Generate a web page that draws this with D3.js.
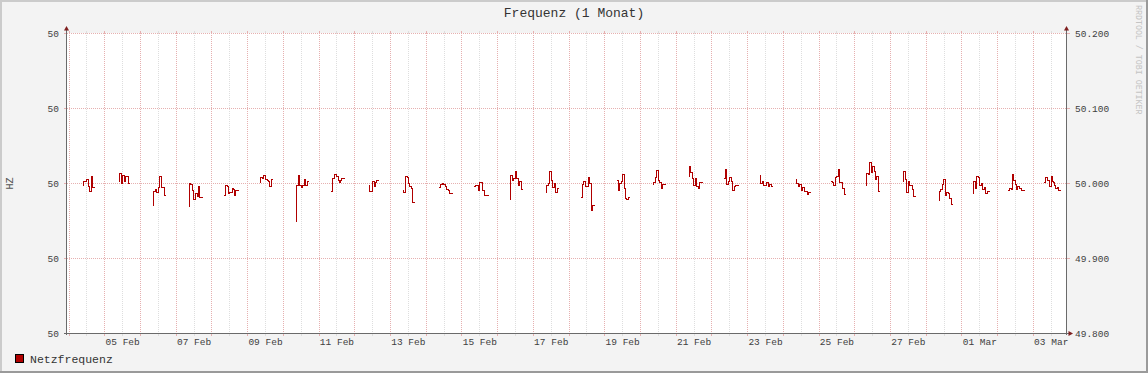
<!DOCTYPE html>
<html>
<head>
<meta charset="utf-8">
<script src="https://cdn.jsdelivr.net/npm/d3@7"></script>
<style>
    body { margin: 0; background: #f3f3f3; }
    svg { display: block; }
    text { font-family: "Liberation Mono", "DejaVu Sans Mono", monospace; }
</style>
</head>
<body>
<svg id="chart" width="1148" height="373"></svg>
<script>
// data, one value per step
const stepMinutes = 40;
const rangeStart = new Date(2023, 1, 3, 22, 56);
const rangeDays = 28;
const yTicks = [49.8, 49.9, 50.0, 50.1, 50.2];

const segStarts = [
    "2023-02-04 09:00", "2023-02-05 09:12", "2023-02-06 08:03", "2023-02-07 08:14",
    "2023-02-08 07:46", "2023-02-09 07:57", "2023-02-10 08:09", "2023-02-11 07:40",
    "2023-02-12 09:12", "2023-02-13 08:03", "2023-02-14 08:14", "2023-02-15 07:46",
    "2023-02-16 07:57", "2023-02-17 08:09", "2023-02-18 07:40", "2023-02-19 07:52",
    "2023-02-20 08:03", "2023-02-21 08:14", "2023-02-22 07:46", "2023-02-23 07:57",
    "2023-02-24 08:09", "2023-02-25 07:40", "2023-02-26 07:11", "2023-02-27 08:03",
    "2023-02-28 08:14", "2023-03-01 07:05", "2023-03-02 06:37", "2023-03-03 06:48"
];

const segValues = [
    [49.997, 50.003, 50.003, 50.003, 50.005, 50.005, 49.996, 49.989, 49.989, 50.010, 49.995, 49.995],
    [50.003, 50.013, 50.013, 50.000, 50.011, 50.011, 50.003, 50.009, 50.009, 50.009, 50.000],
    [49.971, 49.989, 49.989, 49.992, 49.988, 49.988, 49.995, 50.009, 50.009, 49.995, 49.995, 49.995, 49.984],
    [49.969, 50.000, 49.999, 49.999, 49.991, 49.979, 49.979, 49.987, 49.987, 49.983, 49.996, 49.981, 49.981, 49.981],
    [49.984, 49.984, 49.997, 49.997, 49.996, 49.987, 49.988, 49.988, 49.988, 49.993, 49.992, 49.984, 49.991, 49.991, 49.991],
    [50.001, 50.008, 50.008, 50.007, 50.011, 50.011, 50.005, 50.005, 50.004, 50.003, 49.996, 49.996, 50.005],
    [49.949, 49.997, 49.997, 50.011, 49.997, 49.997, 49.995, 49.997, 49.997, 50.005, 49.997, 49.997, 50.003],
    [49.989, 49.989, 50.007, 50.007, 50.012, 50.012, 50.009, 50.009, 50.004, 50.001, 50.004, 50.007, 50.007, 50.007],
    [49.997, 49.989, 49.989, 49.989, 50.003, 50.003, 49.996, 50.001, 50.004, 50.004],
    [49.991, 49.988, 49.988, 50.009, 50.009, 50.008, 50.000, 49.996, 49.996, 49.993, 49.975, 49.975],
    [49.995, 49.995, 49.999, 49.999, 50.000, 49.999, 49.999, 49.996, 49.992, 49.992, 49.991, 49.987, 49.987, 49.987],
    [49.996, 49.996, 49.997, 49.997, 49.997, 49.991, 50.001, 50.001, 50.001, 49.991, 49.991, 49.984, 49.984, 49.984, 49.984],
    [49.979, 50.011, 50.011, 50.004, 50.007, 50.007, 50.016, 50.007, 50.007, 49.997, 50.003, 50.003, 49.992],
    [49.988, 49.997, 49.997, 50.000, 50.016, 50.016, 50.004, 49.995, 49.995, 50.000, 49.988, 49.988, 49.993],
    [49.981, 49.981, 49.999, 50.003, 50.003, 49.996, 49.996, 49.996, 50.008, 50.000, 50.000, 49.964, 49.971, 49.971],
    [50.004, 50.004, 49.991, 50.000, 50.000, 50.003, 50.012, 50.012, 49.993, 49.980, 49.979, 49.979, 49.981],
    [49.999, 50.001, 50.001, 50.008, 50.017, 50.017, 50.004, 50.001, 50.001, 49.993, 49.999, 49.999, 49.999],
    [50.009, 50.023, 50.015, 50.015, 50.007, 49.997, 49.997, 50.007, 49.996, 49.996, 49.993, 50.001, 50.001, 50.001],
    [50.007, 50.007, 50.019, 49.999, 49.999, 50.003, 50.008, 50.008, 50.003, 49.991, 49.991, 49.996, 49.997, 49.997, 49.997],
    [50.011, 50.000, 50.000, 50.003, 49.997, 49.997, 49.997, 50.001, 50.001, 49.996, 49.999, 49.999, 49.996],
    [50.005, 50.000, 50.000, 49.996, 49.999, 49.999, 49.991, 49.995, 49.995, 49.989, 49.989, 49.989, 49.985, 49.988, 49.988],
    [50.003, 50.003, 50.001, 49.997, 49.997, 50.008, 50.009, 50.009, 50.019, 50.001, 50.001, 50.001, 49.993, 49.993, 49.985],
    [49.997, 50.013, 50.013, 50.012, 50.028, 50.028, 50.015, 50.023, 50.023, 50.016, 50.005, 50.009, 50.009, 49.989],
    [50.003, 50.016, 50.016, 50.005, 49.988, 49.988, 50.003, 49.997, 49.997, 49.997, 49.992, 49.983, 49.983],
    [49.977, 49.989, 49.992, 49.992, 49.999, 50.005, 50.005, 49.984, 49.988, 49.988, 49.987, 49.980, 49.980, 49.972],
    [49.987, 50.003, 50.003, 49.993, 50.009, 50.009, 50.008, 49.997, 49.997, 50.000, 49.992, 49.992, 49.995, 49.987, 49.987, 49.989, 49.989],
    [49.991, 49.991, 49.993, 49.993, 49.992, 50.012, 50.004, 50.004, 49.999, 49.992, 49.996, 49.996, 49.993, 49.993, 49.991, 49.991, 49.991],
    [50.001, 50.001, 50.008, 50.008, 50.004, 50.004, 49.996, 49.996, 50.009, 50.003, 50.001, 49.997, 49.993, 49.993, 49.995, 49.991, 49.991]
];

const W = 1148, H = 373;
const plot = { left: 67, right: 1067, top: 33, bottom: 333 };
const lineColor = "#b00000";
const minorColor = "#dedede";
const majorColor = "#e6b0b0";
const axisColor = "#6a6a6a";
const arrowColor = "#7f1f1f";
const textColor = "#404040";

const svg = d3.select("#chart");

// background + 3d-ish border like rrdtool
svg.append("rect").attr("width", W).attr("height", H).attr("fill", "#f3f3f3");
svg.append("rect").attr("width", W).attr("height", 2).attr("fill", "#cbcbcb");
svg.append("rect").attr("width", 2).attr("height", H).attr("fill", "#cbcbcb");
svg.append("rect").attr("y", H - 2).attr("width", W).attr("height", 2).attr("fill", "#9a9a9a");
svg.append("rect").attr("x", W - 2).attr("width", 2).attr("height", H).attr("fill", "#9a9a9a");

svg.append("rect")
    .attr("x", plot.left).attr("y", plot.top)
    .attr("width", plot.right - plot.left).attr("height", plot.bottom - plot.top)
    .attr("fill", "#ffffff");

const rangeEnd = d3.timeDay.offset(rangeStart, rangeDays);
const x = d3.scaleTime().domain([rangeStart, rangeEnd]).range([plot.left, plot.right]);
const y = d3.scaleLinear().domain([49.8, 50.2]).range([plot.bottom, plot.top]);

const px = v => Math.round(v) + 0.5;

const midnights = d3.timeDay.range(d3.timeDay.ceil(rangeStart), rangeEnd);
const noons = d3.timeHour.range(rangeStart, rangeEnd).filter(d => d.getHours() === 12);
const labelTimes = d3.timeDay.every(2).range(rangeStart, rangeEnd)
    .map(d => d3.timeHour.offset(d, 12))
    .filter(d => d < rangeEnd);

// grid
const grid = svg.append("g").attr("stroke-width", 1).attr("shape-rendering", "crispEdges");

function vGrid(times, color) {
    grid.selectAll(null).data(times).enter().append("line")
        .attr("x1", d => px(x(d))).attr("x2", d => px(x(d)))
        .attr("y1", plot.top).attr("y2", plot.bottom)
        .attr("stroke", color).attr("stroke-dasharray", "1,1");
    // little ticks outside the canvas
    grid.selectAll(null).data(times).enter().append("line")
        .attr("x1", d => px(x(d))).attr("x2", d => px(x(d)))
        .attr("y1", plot.top - 2).attr("y2", plot.top)
        .attr("stroke", color);
    grid.selectAll(null).data(times).enter().append("line")
        .attr("x1", d => px(x(d))).attr("x2", d => px(x(d)))
        .attr("y1", plot.bottom).attr("y2", plot.bottom + 3)
        .attr("stroke", color);
}
vGrid(noons, minorColor);
vGrid(midnights, majorColor);

grid.selectAll(null).data(yTicks).enter().append("line")
    .attr("x1", plot.left).attr("x2", plot.right)
    .attr("y1", d => px(y(d))).attr("y2", d => px(y(d)))
    .attr("stroke", majorColor).attr("stroke-dasharray", "1,1");
grid.selectAll(null).data(yTicks).enter().append("line")
    .attr("x1", plot.left - 3).attr("x2", plot.left)
    .attr("y1", d => px(y(d))).attr("y2", d => px(y(d)))
    .attr("stroke", majorColor);
grid.selectAll(null).data(yTicks).enter().append("line")
    .attr("x1", plot.right).attr("x2", plot.right + 3)
    .attr("y1", d => px(y(d))).attr("y2", d => px(y(d)))
    .attr("stroke", majorColor);

// the data line
const series = segStarts.map((s, i) => {
    const t0 = d3.timeParse("%Y-%m-%d %H:%M")(s);
    const vals = segValues[i];
    const pts = vals.map((v, j) => ({ t: d3.timeMinute.offset(t0, j * stepMinutes), v: v }));
    pts.push({ t: d3.timeMinute.offset(t0, vals.length * stepMinutes), v: vals[vals.length - 1] });
    return pts;
});

const line = d3.line()
    .x(d => px(x(d.t)))
    .y(d => px(y(d.v)))
    .curve(d3.curveStepAfter);

svg.append("g").selectAll("path").data(series).enter().append("path")
    .attr("d", line)
    .attr("fill", "none")
    .attr("stroke", lineColor)
    .attr("stroke-width", 1.3)
    .attr("shape-rendering", "crispEdges");

// axes lines and arrows
const axes = svg.append("g").attr("stroke", axisColor).attr("shape-rendering", "crispEdges");
axes.append("line").attr("x1", plot.left - 0.5).attr("x2", plot.left - 0.5).attr("y1", plot.top - 3).attr("y2", plot.bottom + 2);
axes.append("line").attr("x1", plot.right - 0.5).attr("x2", plot.right - 0.5).attr("y1", plot.top - 3).attr("y2", plot.bottom + 2);
axes.append("line").attr("x1", plot.left - 3).attr("x2", plot.right + 3).attr("y1", plot.bottom + 0.5).attr("y2", plot.bottom + 0.5);

const arrows = svg.append("g").attr("fill", arrowColor);
arrows.append("path").attr("d", `M${plot.left - 0.5},${plot.top - 7}l-2.5,4.5h5z`);
arrows.append("path").attr("d", `M${plot.right - 0.5},${plot.top - 7}l-2.5,4.5h5z`);
arrows.append("path").attr("d", `M${plot.right + 6},${plot.bottom + 0.5}l-4.5,-2.5v5z`);

// tick labels
function styleAxis(g) {
    g.select(".domain").remove();
    g.selectAll(".tick line").remove();
    g.attr("font-family", null).attr("font-size", null);
    g.selectAll("text")
        .attr("fill", textColor)
        .style("font-family", "'Liberation Mono', 'DejaVu Sans Mono', monospace")
        .style("font-size", "9.5px");
}

svg.append("g")
    .attr("transform", `translate(${plot.left},0.5)`)
    .call(d3.axisLeft(y).tickValues(yTicks).tickFormat(d3.format(".0f")).tickSize(0).tickPadding(8))
    .call(styleAxis);

svg.append("g")
    .attr("transform", `translate(${plot.right},0.5)`)
    .call(d3.axisRight(y).tickValues(yTicks).tickFormat(d3.format(".3f")).tickSize(0).tickPadding(8))
    .call(styleAxis);

svg.append("g")
    .attr("transform", `translate(0,${plot.bottom})`)
    .call(d3.axisBottom(x).tickValues(labelTimes).tickFormat(d3.timeFormat("%d %b")).tickSize(0).tickPadding(5))
    .call(styleAxis);

// title, unit, legend, watermark
svg.append("text")
    .attr("x", 574).attr("y", 17)
    .attr("text-anchor", "middle")
    .attr("fill", "#333")
    .style("font-size", "13px")
    .text("Frequenz (1 Monat)");

svg.append("text")
    .attr("transform", `translate(13,${px(y(50))}) rotate(-90)`)
    .attr("text-anchor", "middle")
    .attr("fill", "#555")
    .style("font-size", "10px")
    .text("HZ");

svg.append("rect")
    .attr("x", 15.5).attr("y", 354.5).attr("width", 8).attr("height", 8)
    .attr("fill", lineColor).attr("stroke", "#000");

svg.append("text")
    .attr("x", 30).attr("y", 362.5)
    .attr("fill", "#333")
    .style("font-size", "11.5px")
    .text("Netzfrequenz");

svg.append("text")
    .attr("transform", "translate(1136,5) rotate(90)")
    .attr("fill", "#c4c4c4")
    .style("font-size", "8.3px")
    .text("RRDTOOL / TOBI OETIKER");
</script>
</body>
</html>
